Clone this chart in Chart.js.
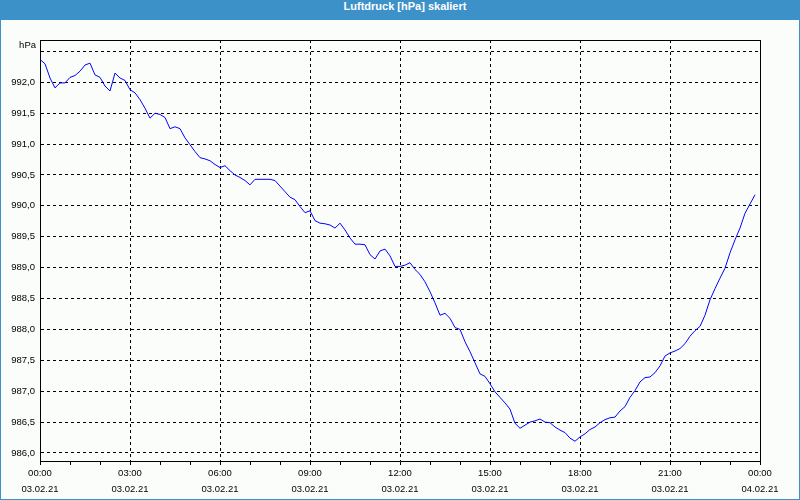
<!DOCTYPE html>
<html>
<head>
<meta charset="utf-8">
<title>Luftdruck [hPa] skaliert</title>
<script src="https://cdn.jsdelivr.net/npm/chart.js@4.4.1/dist/chart.umd.min.js"></script>
<style>
  html, body { margin: 0; padding: 0; background: #fbfdfb; }
  #frame { position: absolute; left: 0; top: 0; width: 798px; height: 499px; border: 1px solid #3c91c8; border-top: none; background: #fbfdfb; }
  #titlebar { height: 20px; line-height: 20px; background: #3c91c8; color: #fff; text-align: center; font: bold 11px "Liberation Sans", Arial, sans-serif; padding-left: 10px; box-sizing: border-box; }
  #wrap { position: relative; width: 798px; height: 479px; }
</style>
</head>
<body>
<div id="frame">
  <div id="titlebar">Luftdruck [hPa] skaliert</div>
  <div id="wrap"><canvas id="pressure"></canvas></div>
</div>
<script>
// one reading every 10 minutes, 03.02.21 00:00 - 23:50
const stepMinutes = 10;
const pressure = [
  992.37, 992.30, 992.07, 991.91, 991.99, 991.99, 992.08, 992.11, 992.18, 992.28,
  992.31, 992.12, 992.08, 991.94, 991.86, 992.15, 992.07, 992.03, 991.88, 991.83,
  991.72, 991.58, 991.42, 991.50, 991.48, 991.43, 991.25, 991.28, 991.25, 991.10,
  990.99, 990.88, 990.78, 990.76, 990.73, 990.67, 990.62, 990.65, 990.57, 990.50,
  990.46, 990.41, 990.34, 990.43, 990.43, 990.43, 990.43, 990.41, 990.32, 990.23,
  990.14, 990.10, 989.99, 989.89, 989.92, 989.76, 989.72, 989.71, 989.69, 989.64,
  989.72, 989.61, 989.48, 989.38, 989.38, 989.37, 989.21, 989.14, 989.27, 989.30,
  989.19, 989.02, 989.02, 989.04, 989.08, 988.97, 988.89, 988.77, 988.61, 988.43,
  988.23, 988.26, 988.18, 988.03, 988.00, 987.80, 987.64, 987.46, 987.28, 987.24,
  987.12, 986.99, 986.90, 986.81, 986.71, 986.48, 986.40, 986.45, 986.50, 986.52,
  986.55, 986.50, 986.49, 986.42, 986.37, 986.33, 986.24, 986.19, 986.26, 986.31,
  986.38, 986.42, 986.49, 986.54, 986.57, 986.58, 986.68, 986.75, 986.90, 987.01,
  987.15, 987.22, 987.23, 987.30, 987.41, 987.57, 987.62, 987.65, 987.69, 987.77,
  987.89, 987.98, 988.05, 988.23, 988.48, 988.66, 988.83, 988.99, 989.24, 989.45,
  989.64, 989.88, 990.03, 990.18
];
const tickTimes = ['00:00', '03:00', '06:00', '09:00', '12:00', '15:00', '18:00', '21:00', '00:00'];
const tickDates = ['03.02.21', '03.02.21', '03.02.21', '03.02.21', '03.02.21', '03.02.21', '03.02.21', '03.02.21', '04.02.21'];
const yMin = 985.87;
const yMax = 992.685;

const fontFamily = '"Liberation Sans", Arial, sans-serif';

var points = [];
for (var i = 0; i < pressure.length; i++) {
    points.push({ x: i * stepMinutes, y: pressure[i] });
}

const frameLines = {
    id: 'frameLines',
    afterDraw(chart) {
        const a = chart.chartArea;
        const ctx = chart.ctx;
        ctx.save();
        ctx.strokeStyle = '#000';
        ctx.lineWidth = 1;
        ctx.beginPath();
        ctx.moveTo(a.left, a.top + 0.5);
        ctx.lineTo(a.right + 0.5, a.top + 0.5);
        ctx.lineTo(a.right + 0.5, a.bottom);
        ctx.stroke();
        ctx.fillStyle = '#000';
        ctx.font = '9.5px ' + fontFamily;
        ctx.textAlign = 'right';
        ctx.textBaseline = 'middle';
        ctx.fillText('hPa', a.left - 4, a.top + 5);
        ctx.restore();
    }
};

var ctx = document.getElementById('pressure').getContext('2d');
var chart = new Chart(ctx, {
    type: 'line',
    data: {
        datasets: [{
            data: points,
            borderColor: '#0000ff',
            borderWidth: 1,
            pointRadius: 0,
            tension: 0,
            fill: false
        }]
    },
    options: {
        responsive: true,
        maintainAspectRatio: false,
        animation: false,
        layout: { padding: { left: 0, right: 39, top: 20, bottom: 0 } },
        plugins: {
            legend: { display: false },
            tooltip: { enabled: false }
        },
        scales: {
            x: {
                type: 'linear',
                min: 0,
                max: 1440,
                afterFit: function (scale) { scale.height = 38; },
                border: { display: true, color: '#000', width: 1, dash: [3, 3] },
                grid: {
                    color: function (c) {
                        return c.tick && c.tick.value % 180 === 0 ? '#000' : 'rgba(0,0,0,0)';
                    },
                    tickColor: '#000',
                    tickLength: 4,
                    tickBorderDash: [],
                    lineWidth: 1
                },
                ticks: {
                    stepSize: 60,
                    autoSkip: false,
                    maxRotation: 0,
                    padding: 0,
                    color: '#000',
                    font: { family: fontFamily, size: 9.5, lineHeight: 1.7 },
                    callback: function (value) {
                        if (value % 180 !== 0) return '';
                        var k = value / 180;
                        return [tickTimes[k], tickDates[k]];
                    }
                }
            },
            y: {
                min: yMin,
                max: yMax,
                afterFit: function (scale) { scale.width = 39; },
                border: { display: true, color: '#000', width: 1, dash: [3, 3] },
                grid: { color: '#000', lineWidth: 1, drawTicks: false },
                ticks: {
                    stepSize: 0.5,
                    includeBounds: false,
                    padding: 5,
                    color: '#000',
                    font: { family: fontFamily, size: 9.5 },
                    callback: function (value) {
                        if (Math.abs(value - 992.5) < 0.01) return '';
                        return value.toFixed(1).replace('.', ',');
                    }
                }
            }
        }
    },
    plugins: [frameLines]
});
</script>
</body>
</html>
